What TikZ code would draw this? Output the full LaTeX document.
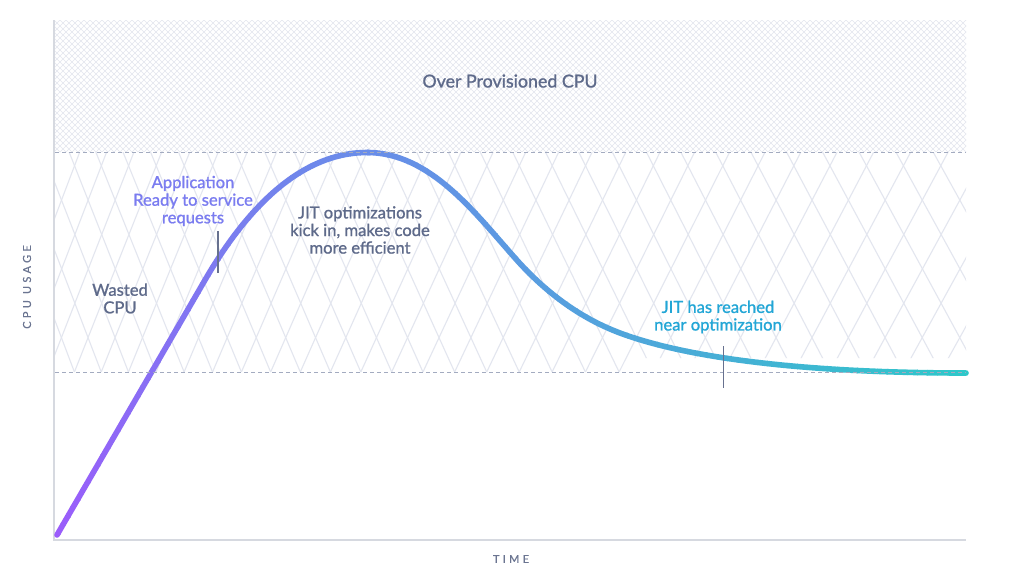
\documentclass[tikz,border=0pt]{standalone}
\usepackage{fontspec}
\setmainfont{Lato}
\newfontfamily\lblfont{Lato}[FakeBold=1.1]
\newfontfamily\axfont{Lato}[LetterSpace=30,FakeBold=0.6]
\definecolor{hatchc}{HTML}{E3E6EE}
\definecolor{latc}{HTML}{E3E6EF}
\definecolor{axisc}{HTML}{D6D9E0}
\definecolor{guidec}{HTML}{A3ABC0}
\definecolor{tickc}{HTML}{67718F}
\definecolor{slate}{HTML}{5E6A8A}
\definecolor{appc}{HTML}{7A7CF0}
\definecolor{jitc}{HTML}{22A6D6}
\definecolor{axlbl}{HTML}{6B7591}
\definecolor{cV}{HTML}{9B5CFB}
\definecolor{cB}{HTML}{6A8CE9}
\definecolor{cT}{HTML}{2EC7C9}
\def\cpucurve{(57,535) -- (205,280) .. controls (255,194) and (310,152.5) .. (367,152.5) .. controls (430,152.5) and (475,213) .. (515,258) .. controls (545,292) and (580,318) .. (620,333) .. controls (680,355.5) and (790,373) .. (966,373)}
\tikzset{
  hatch/.style={draw=hatchc, line width=0.55pt},
  lat/.style={draw=latc, line width=1.1pt},
  axisline/.style={draw=axisc, line width=2pt},
  guide/.style={draw=guidec, line width=0.9pt, dash pattern=on 4pt off 3pt},
  tickmark/.style={draw=tickc, line width=1.4pt},
  lbl/.style={font=\lblfont\fontsize{16.6}{17.6}\selectfont, align=center, inner sep=0pt},
  axlabel/.style={font=\axfont\fontsize{11}{13}\selectfont, text=axlbl, inner sep=0pt},
  curvestroke/.style={line width=5.6pt, line cap=round, line join=round},
}
\begin{document}
\begin{tikzpicture}[x=1pt,y=-1pt]
\useasboundingbox (0,0) rectangle (1024,576);
\fill[white] (0,0) rectangle (1024,576);
% top cross-hatched band
\begin{scope}
  \clip (55,20) rectangle (966,152);
  \foreach \x in {-84,-78,...,972} {
    \draw[hatch] (\x,20) -- ++(132,132);
    \draw[hatch] (\x+132,20) -- ++(-132,132);
  }
\end{scope}
% diamond lattice (wasted CPU band)
\begin{scope}
  \clip (55,152) -- (966,152) -- (966,358) -- (630,358) -- (630,372) -- (55,372) -- cycle;
  \foreach \k in {-5,...,34} {
    \pgfmathsetmacro\ut{\k-3.2}
    \pgfmathsetmacro\um{\k+3.2}
    \pgfmathsetmacro\xt{48+26.21*(\ut)+0.2025*(\ut)*(\ut)}
    \pgfmathsetmacro\xm{48+26.21*(\um)+0.2025*(\um)*(\um)}
    \pgfmathsetmacro\xbt{48+26.21*(\k)+0.2025*(\k)*(\k)}
    \draw[lat] (\xt,152) -- (\xbt,372);
    \draw[lat] (\xm,152) -- (\xbt,372);
  }
\end{scope}
% axes
\coordinate (origin) at (54,540);
\coordinate (ytop) at (54,20);
\coordinate (xend) at (966,540);
\draw[axisline] (ytop) -- (origin) -- (xend);
% gradient curve, rising part
\foreach \i in {0,...,31} {
  \pgfmathsetmacro\xa{50+10*\i}
  \pgfmathsetmacro\xb{\xa+10.6}
  \pgfmathsetmacro\fr{max(0.001,min(1,(367-(\xa+5))/310))}
  \pgfmathtruncatemacro\p{100*\fr^1.35}
  \colorlet{segc}{cV!\p!cB}
  \begin{scope}
    \clip (\xa,0) rectangle (\xb,576);
    \draw[curvestroke, draw=segc] \cpucurve;
  \end{scope}
}
% gradient curve, falling part
\foreach \i in {0,...,60} {
  \pgfmathsetmacro\xa{367+10*\i}
  \pgfmathsetmacro\xb{\xa+10.6}
  \pgfmathtruncatemacro\p{max(0,min(100,(966-(\xa+5))/5.99))}
  \colorlet{segc}{cB!\p!cT}
  \begin{scope}
    \clip (\xa,0) rectangle (\xb,576);
    \draw[curvestroke, draw=segc] \cpucurve;
  \end{scope}
}
% dashed guide lines
\coordinate (g1a) at (55,152);
\coordinate (g1b) at (966,152);
\coordinate (g2a) at (55,372);
\coordinate (g2b) at (966,372);
\draw[guide] (g1a) -- (g1b);
\draw[guide] (g2a) -- (g2b);
% tick marks
\coordinate (t1a) at (218,231);
\coordinate (t1b) at (218,273);
\coordinate (t2a) at (723.5,346);
\coordinate (t2b) at (723.5,388);
\draw[tickmark] (t1a) -- (t1b);
\draw[tickmark] (t2a) -- (t2b);
% labels
\node[lbl, text=slate, font=\lblfont\fontsize{17.8}{19}\selectfont] (over) at (510,81) {Over Provisioned CPU};
\node[lbl, text=appc] (app) at (193,201) {Application\\Ready to service\\requests};
\node[lbl, text=slate] (wasted) at (120,298.5) {Wasted\\CPU};
\node[lbl, text=slate] (jitkick) at (360,230) {JIT optimizations\\kick in, makes code\\more efficient};
\node[lbl, text=jitc] (jitreach) at (718,317) {JIT has reached\\near optimization};
\node[axlabel, rotate=90] (ylbl) at (27,287) {CPU USAGE};
\node[axlabel] (xlbl) at (511,559) {TIME};
\end{tikzpicture}
\end{document}
